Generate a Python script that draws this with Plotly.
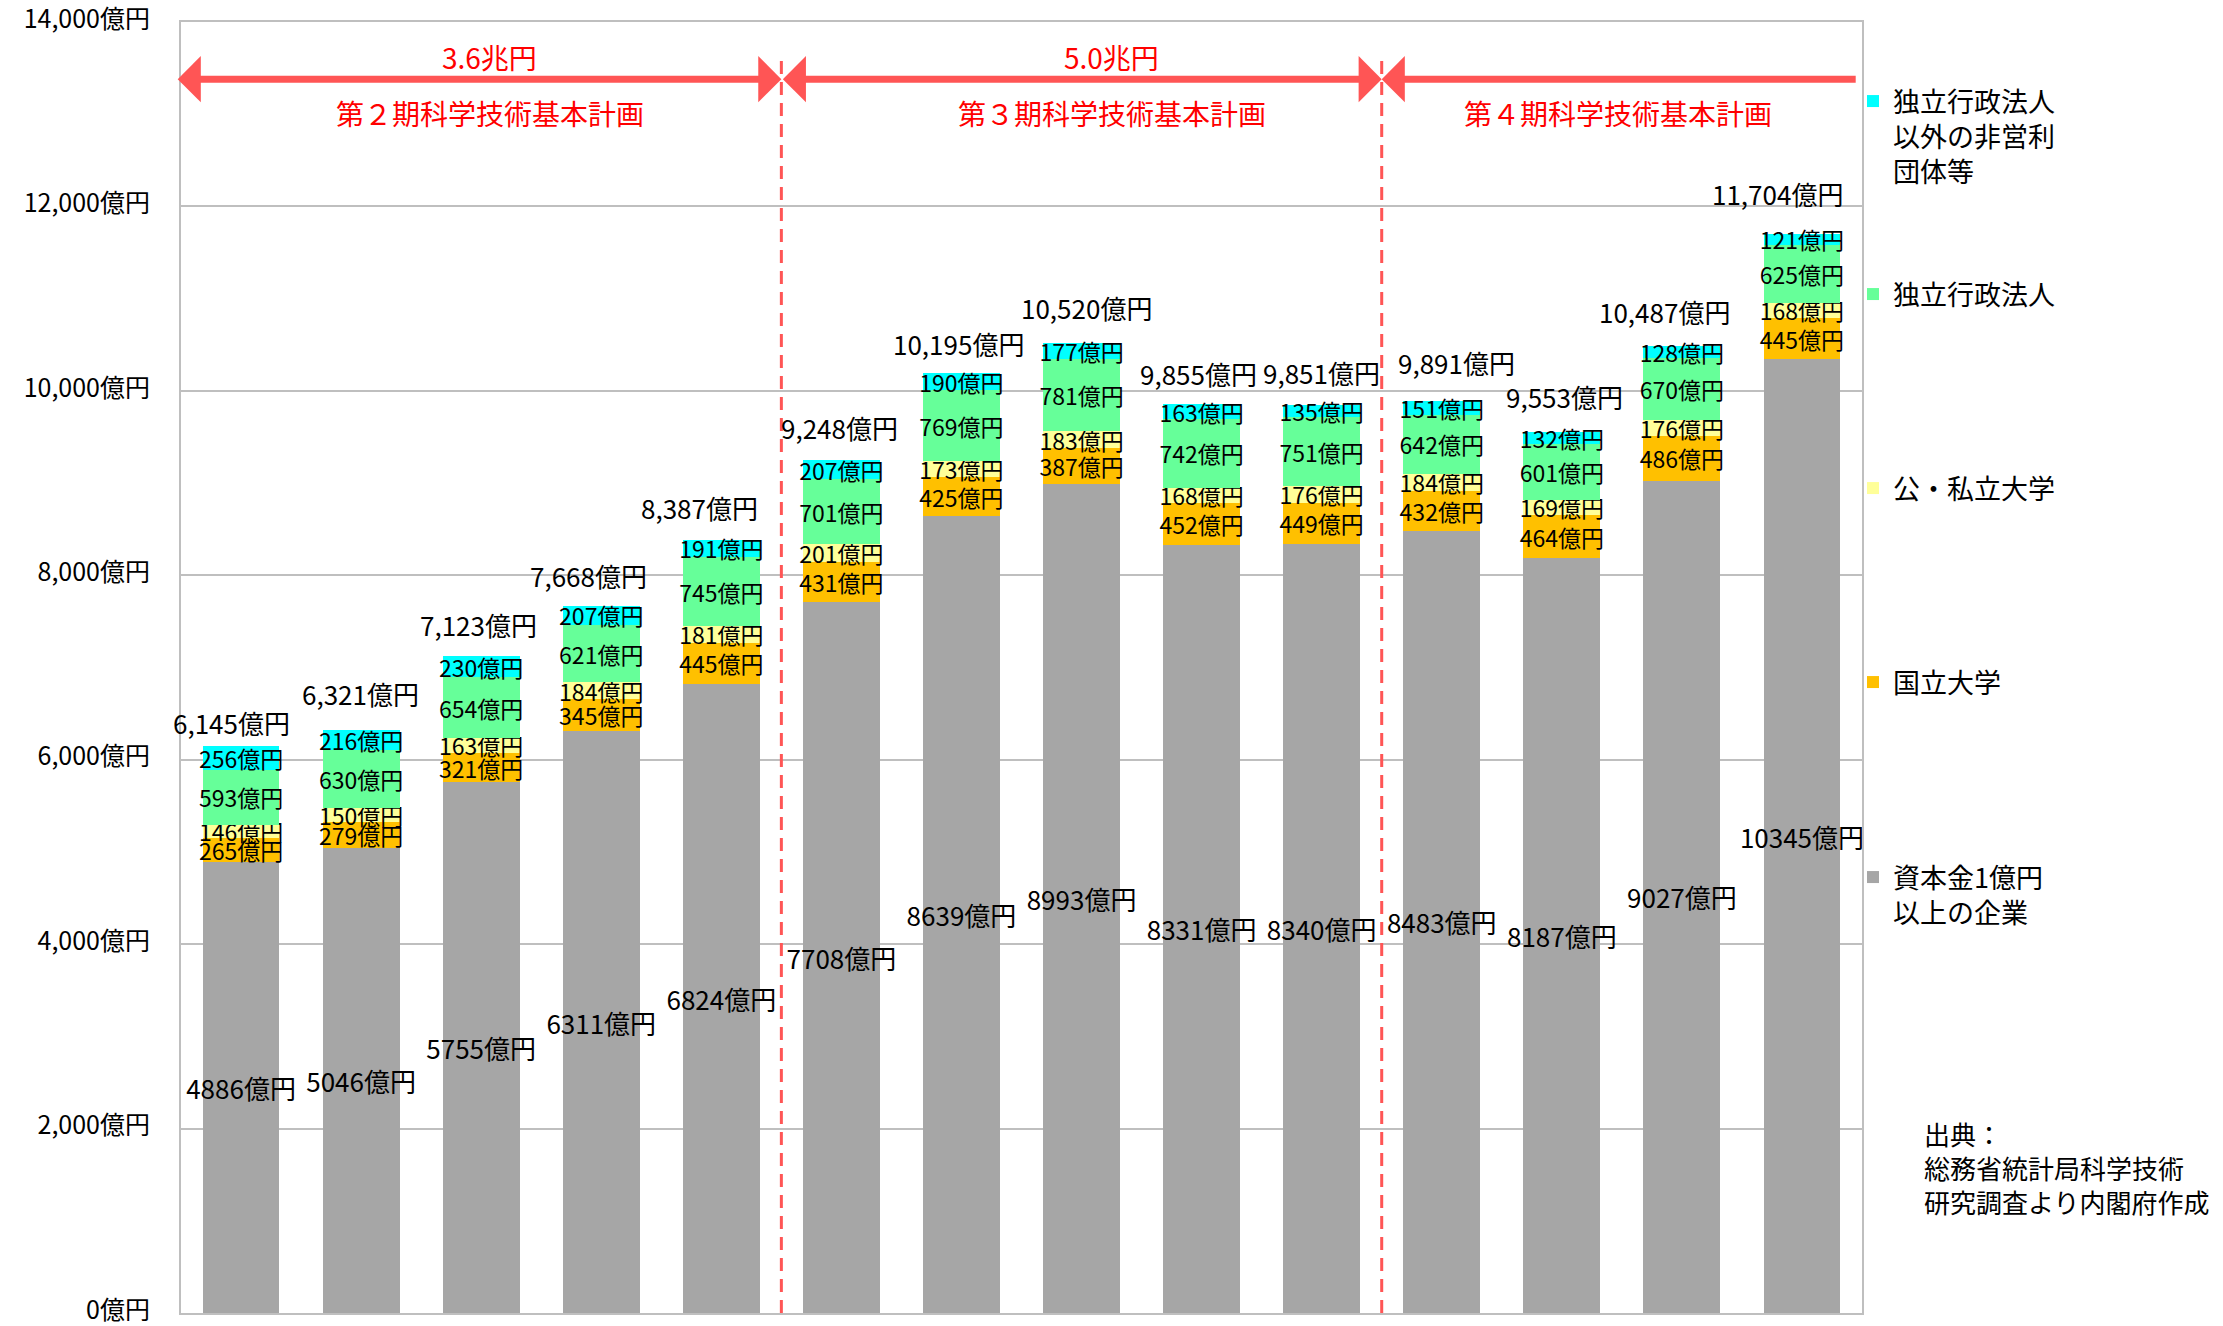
import plotly.graph_objects as go

# ---- data (億円) -------------------------------------------------------
fiscal_years = [str(y) for y in range(2001, 2015)]

companies = [4886, 5046, 5755, 6311, 6824, 7708, 8639, 8993, 8331, 8340, 8483, 8187, 9027, 10345]
national_univ = [265, 279, 321, 345, 445, 431, 425, 387, 452, 449, 432, 464, 486, 445]
public_private_univ = [146, 150, 163, 184, 181, 201, 173, 183, 168, 176, 184, 169, 176, 168]
independent_admin = [593, 630, 654, 621, 745, 701, 769, 781, 742, 751, 642, 601, 670, 625]
nonprofit_other = [256, 216, 230, 207, 191, 207, 190, 177, 163, 135, 151, 132, 128, 121]
totals = [6145, 6321, 7123, 7668, 8387, 9248, 10195, 10520, 9855, 9851, 9891, 9553, 10487, 11704]

y_ticks = [0, 2000, 4000, 6000, 8000, 10000, 12000, 14000]

plan_names = ["第２期科学技術基本計画", "第３期科学技術基本計画", "第４期科学技術基本計画"]
plan_budgets = ["3.6兆円", "5.0兆円", ""]
plan_first_bar = [0, 5, 10]
plan_last_bar = [4, 9, 13]

# ---- styling ------------------------------------------------------------
FONT = "Noto Sans CJK JP"
GRID = "#BFBFBF"
ARROW_RED = "#FF5555"
TEXT_RED = "#FF0000"

series = [
    # name, values, colour, legend id, label size
    ("資本金1億円<br>以上の企業", companies, "#A6A6A6", "legend5", 26),
    ("国立大学", national_univ, "#FFC000", "legend4", 23),
    ("公・私立大学", public_private_univ, "#FFFF99", "legend3", 23),
    ("独立行政法人", independent_admin, "#66FF99", "legend2", 23),
    ("独立行政法人<br>以外の非営利<br>団体等", nonprofit_other, "#00FFFF", "legend", 23),
]

# legend first-line centres in pixels from the top of the page
legend_line_px = {"legend": 99, "legend2": 292, "legend3": 486, "legend4": 680, "legend5": 875}

# small pixel nudges for the total labels (dx, dy above bar top)
total_dx = [-10, -1, -3, -13, -22, -2, -3, 5, -3, 0, 15, 3, -17, -24]
total_dy = [24, 37, 32, 30, 32, 33, 29, 35, 31, 32, 38, 36, 34, 40]

plan_label_x = [2.07, 7.25, 11.47]

W, H = 2223, 1326
M_L, M_R, M_T, M_B = 181, 361, 22, 13
PLOT_H = H - M_T - M_B
PLOT_W = W - M_L - M_R

ARROW_Y = 13380
DASH_TOP = 13610


def paper_y(px_from_top):
    return (H - M_B - px_from_top) / PLOT_H


def paper_x(px_from_left):
    return (px_from_left - M_L) / PLOT_W


fig = go.Figure()

for name, vals, color, legend_id, size in series:
    fig.add_trace(go.Bar(
        x=fiscal_years,
        y=vals,
        name=name,
        marker=dict(color=color, line=dict(width=0)),
        text=[f"{v}億円" for v in vals],
        textposition="inside",
        insidetextanchor="middle",
        constraintext="none",
        textangle=0,
        textfont=dict(family=FONT, size=size, color="black"),
        cliponaxis=False,
        legend=legend_id,
        hoverinfo="skip",
    ))

# totals above each stack
for i, t in enumerate(totals):
    fig.add_annotation(
        x=i, y=t, text=f"{t:,}億円", showarrow=False,
        xshift=total_dx[i], yshift=total_dy[i],
        font=dict(family=FONT, size=26, color="black"),
    )

# plan periods: dashed boundaries, arrows and labels
shapes = []
for k in range(len(plan_names)):
    left = plan_first_bar[k] - 0.5
    right = plan_last_bar[k] + 0.5
    is_last = k == len(plan_names) - 1
    if k > 0:
        shapes.append(dict(
            type="line", xref="x", yref="y", x0=left, x1=left, y0=0, y1=DASH_TOP,
            line=dict(color=ARROW_RED, width=3, dash="13px,8px"), layer="above",
        ))
    if k == 0:
        left -= 0.04
    if is_last:
        right -= 0.04
        fig.add_annotation(
            x=left, y=ARROW_Y, ax=right, ay=ARROW_Y, axref="x", ayref="y",
            text="", showarrow=True, arrowside="end",
            arrowhead=1, arrowsize=1.1, arrowwidth=7, arrowcolor=ARROW_RED,
        )
    else:
        fig.add_annotation(
            x=right, y=ARROW_Y, ax=left, ay=ARROW_Y, axref="x", ayref="y",
            text="", showarrow=True, arrowside="end+start",
            arrowhead=1, startarrowhead=1, arrowsize=1.1, startarrowsize=1.1,
            arrowwidth=7, arrowcolor=ARROW_RED,
        )
    if plan_budgets[k]:
        fig.add_annotation(
            x=plan_label_x[k], y=ARROW_Y, yshift=22, text=plan_budgets[k], showarrow=False,
            font=dict(family=FONT, size=28, color=TEXT_RED),
        )
    fig.add_annotation(
        x=plan_label_x[k], y=ARROW_Y, yshift=-34, text=plan_names[k], showarrow=False,
        font=dict(family=FONT, size=28, color=TEXT_RED),
    )

# source note
fig.add_annotation(
    xref="paper", yref="paper", x=paper_x(1922), y=paper_y(1167),
    xanchor="left", yanchor="middle", align="left", showarrow=False,
    text="出典：<br>総務省統計局科学技術<br>研究調査より内閣府作成",
    font=dict(family=FONT, size=26, color="black"),
)

legend_layout = {}
for legend_id, line_px in legend_line_px.items():
    legend_layout[legend_id] = dict(
        x=paper_x(1853), y=paper_y(line_px - 22),
        xanchor="left", yanchor="top", valign="top",
        bgcolor="rgba(0,0,0,0)", borderwidth=0,
        font=dict(family=FONT, size=27, color="black"),
        itemclick=False, itemdoubleclick=False,
    )

fig.update_layout(
    width=W, height=H,
    margin=dict(l=M_L, r=M_R, t=M_T, b=M_B, autoexpand=False),
    barmode="stack", bargap=0.36,
    paper_bgcolor="white", plot_bgcolor="white",
    font=dict(family=FONT, size=26, color="black"),
    shapes=shapes,
    showlegend=True,
    **legend_layout,
    xaxis=dict(
        type="category", range=[-0.5, len(fiscal_years) - 0.5],
        showticklabels=False, showgrid=False, ticks="",
        showline=True, mirror=True, linecolor=GRID, linewidth=2,
        automargin=False,
    ),
    yaxis=dict(
        range=[0, 14000], tickvals=y_ticks,
        ticktext=[f"{v:,}億円" for v in y_ticks],
        tickfont=dict(family=FONT, size=25, color="black"),
        ticks="outside", ticklen=24, tickcolor="rgba(0,0,0,0)",
        ticklabeloverflow="allow", ticklabelshift=-3,
        showgrid=True, gridcolor=GRID, gridwidth=2,
        showline=True, mirror=True, linecolor=GRID, linewidth=2,
        zeroline=False, automargin=False,
    ),
)

fig.write_html("out.html")
